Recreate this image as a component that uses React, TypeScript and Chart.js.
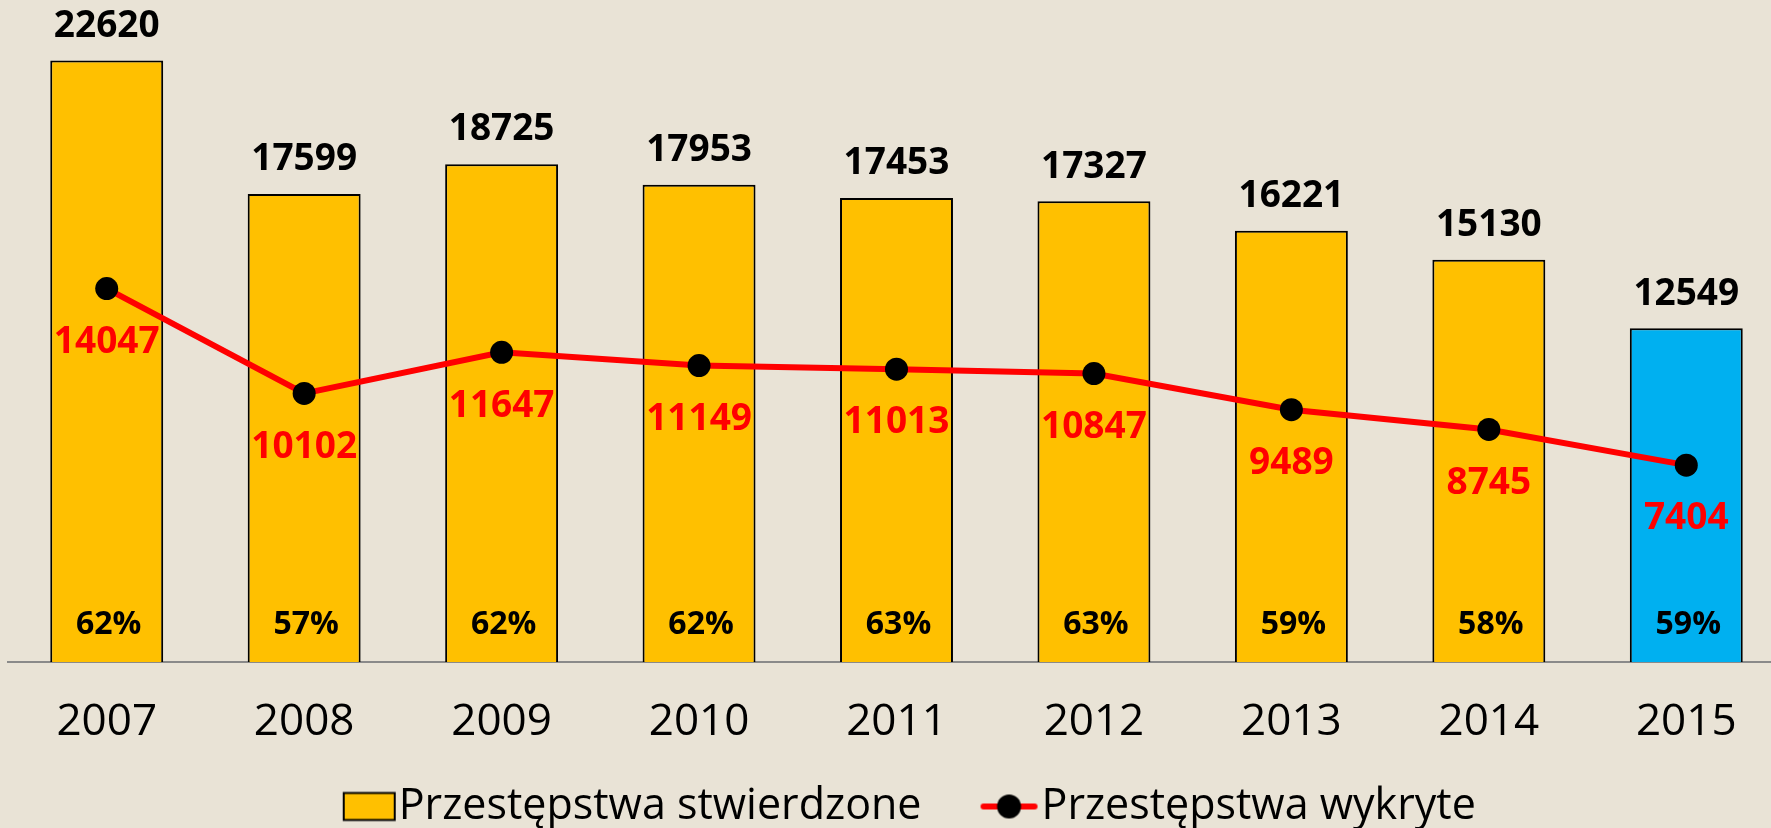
import React, { useEffect, useRef } from "react";
import { Chart, registerables } from "chart.js";

Chart.register(...registerables);

// ---- data ----
const years = ["2007", "2008", "2009", "2010", "2011", "2012", "2013", "2014", "2015"];
const stwierdzone = [22620, 17599, 18725, 17953, 17453, 17327, 16221, 15130, 12549];
const wykryte = [14047, 10102, 11647, 11149, 11013, 10847, 9489, 8745, 7404];
const wykrywalnosc = ["62%", "57%", "62%", "62%", "63%", "63%", "59%", "58%", "59%"];
const seriesNames = ["Przestępstwa stwierdzone", "Przestępstwa wykryte"];
const Y_MAX = 24900;

// ---- style ----
const BG = "#E9E3D6";
const YELLOW = "#FFC000";
const BLUE = "#00B0F0";
const RED = "#FF0000";
const FONT = '"Open Sans", "Noto Sans", sans-serif';
const CANVAS_W = 1785;
const CANVAS_H = 838;
const LEG_BW = 60; // pointStyleWidth
const LEG_FONT = 43;
const ICON_W = LEG_BW + LEG_FONT;
const CAP = 0.714; // cap-height ratio of Open Sans

function makeBarIcon(): HTMLCanvasElement {
  const c = document.createElement("canvas");
  c.width = ICON_W;
  c.height = 34;
  const g = c.getContext("2d")!;
  const x = ICON_W - 4 - 51;
  g.fillStyle = YELLOW;
  g.fillRect(x, 3.5, 51, 27);
  g.strokeStyle = "#000";
  g.lineWidth = 2;
  g.strokeRect(x, 3.5, 51, 27);
  return c;
}

function makeLineIcon(): HTMLCanvasElement {
  const c = document.createElement("canvas");
  c.width = ICON_W;
  c.height = 34;
  const g = c.getContext("2d")!;
  const x1 = ICON_W - 4 - 57;
  const x2 = ICON_W - 4;
  g.strokeStyle = RED;
  g.lineWidth = 6;
  g.lineCap = "round";
  g.beginPath();
  g.moveTo(x1 + 3, 17);
  g.lineTo(x2 - 3, 17);
  g.stroke();
  g.fillStyle = "#000";
  g.beginPath();
  g.arc((x1 + x2) / 2, 17, 12, 0, Math.PI * 2);
  g.fill();
  return c;
}

const bgPlugin = {
  id: "bgFill",
  beforeDraw(chart: any) {
    const { ctx, width, height } = chart;
    ctx.save();
    ctx.fillStyle = BG;
    ctx.fillRect(0, 0, width, height);
    ctx.restore();
  },
};

// draw text so that the digits' visual centre sits at cy
function centeredText(ctx: any, text: string, x: number, cy: number, size: number) {
  ctx.font = `bold ${size}px ${FONT}`;
  ctx.fillText(text, x, cy + (size * CAP) / 2);
}

const labelPlugin = {
  id: "valueLabels",
  afterDatasetsDraw(chart: any) {
    const ctx = chart.ctx;
    const barMeta = chart.getDatasetMeta(0);
    const lineMeta = chart.getDatasetMeta(1);
    ctx.save();
    ctx.textAlign = "center";
    ctx.textBaseline = "alphabetic";
    barMeta.data.forEach((el: any, i: number) => {
      ctx.fillStyle = "#000";
      centeredText(ctx, String(stwierdzone[i]), el.x, el.y - 37, 37);
      centeredText(ctx, wykrywalnosc[i], el.x + 2, el.base - 39, 32);
    });
    lineMeta.data.forEach((el: any, i: number) => {
      ctx.fillStyle = RED;
      centeredText(ctx, String(wykryte[i]), el.x, el.y + 51, 37);
    });
    ctx.restore();
  },
};

export default function App() {
  const ref = useRef<HTMLCanvasElement | null>(null);

  useEffect(() => {
    if (!ref.current) return;
    const barIcon = makeBarIcon();
    const lineIcon = makeLineIcon();
    const chart = new Chart(ref.current, {
      type: "bar",
      data: {
        labels: years,
        datasets: [
          {
            type: "bar",
            label: seriesNames[0],
            data: stwierdzone,
            backgroundColor: (c: any) => (c.dataIndex === years.length - 1 ? BLUE : YELLOW),
            borderColor: "#000",
            borderWidth: 2,
            barPercentage: 0.572,
            categoryPercentage: 1,
            order: 2,
          } as any,
          {
            type: "line",
            label: seriesNames[1],
            data: wykryte,
            borderColor: RED,
            borderWidth: 6,
            pointBackgroundColor: "#000",
            pointBorderColor: "#000",
            pointRadius: 11.5,
            pointBorderWidth: 0,
            tension: 0,
            order: 1,
          } as any,
        ],
      },
      options: {
        animation: false,
        responsive: false,
        events: [],
        layout: { autoPadding: false, padding: { left: 8, right: 0, top: 0, bottom: 0 } },
        scales: {
          x: {
            grid: { display: false, drawTicks: false },
            border: { display: true, color: "#8A8A8A", width: 2 },
            ticks: {
              color: "#000",
              padding: 6.75,
              maxRotation: 0,
              autoSkip: false,
              font: { family: FONT, size: 44, lineHeight: 0.807 },
              callback: function (this: any, value: any) {
                return ["", this.getLabelForValue(value)];
              },
            },
          },
          y: {
            display: false,
            min: 0,
            max: Y_MAX,
          },
        },
        plugins: {
          tooltip: { enabled: false },
          legend: {
            position: "bottom",
            labels: {
              usePointStyle: true,
              pointStyleWidth: LEG_BW,
              boxHeight: LEG_FONT,
              padding: 38.5,
              color: "#000",
              font: { family: FONT, size: LEG_FONT },
              generateLabels: () => [
                {
                  text: seriesNames[0],
                  pointStyle: barIcon,
                  fillStyle: YELLOW,
                  strokeStyle: "#000",
                  lineWidth: 0,
                  hidden: false,
                  datasetIndex: 0,
                  fontColor: "#000",
                } as any,
                {
                  text: seriesNames[1],
                  pointStyle: lineIcon,
                  fillStyle: RED,
                  strokeStyle: RED,
                  lineWidth: 0,
                  hidden: false,
                  datasetIndex: 1,
                  fontColor: "#000",
                } as any,
              ],
            },
          },
        },
      },
      plugins: [bgPlugin, labelPlugin],
    });
    return () => chart.destroy();
  }, []);

  return (
    <div
      style={{
        position: "fixed",
        left: 0,
        top: 0,
        width: 1771,
        height: 828,
        overflow: "hidden",
        background: BG,
      }}
    >
      <canvas ref={ref} width={CANVAS_W} height={CANVAS_H} style={{ display: "block" }} />
    </div>
  );
}
